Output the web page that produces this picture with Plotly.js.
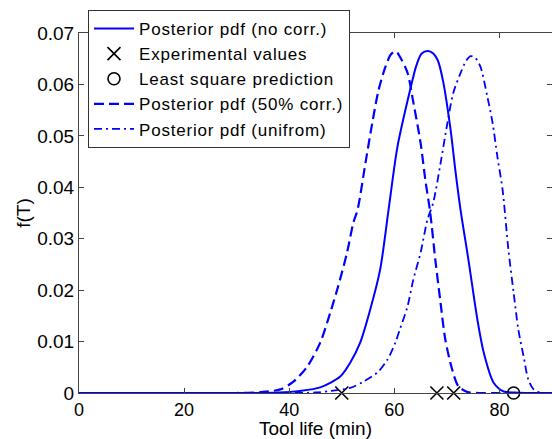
<!DOCTYPE html>
<html>
<head>
<meta charset="utf-8">
<script src="https://cdn.plot.ly/plotly-3.0.1.min.js"></script>
<style>html,body{margin:0;padding:0;background:#fff;}#chart{width:552px;height:439px;}
.legendtext{letter-spacing:0.8px;}</style>
</head>
<body>
<div id="chart"></div>
<script>
// Posterior pdf (no corr.)
var noCorrX = [0, 10, 20, 30, 38, 42, 45.9, 49.7, 51.6, 53.5, 55.4, 57.3, 58.9, 60.6, 63.0, 64.2, 65.2, 66.4, 67.4, 68.3, 69.3, 70.7, 71.6, 72.6, 74.1, 75.8, 77.0, 78.9, 80.8, 83, 86, 90];
var noCorrY = [0, 0, 0, 0, 0.0001, 0.0004, 0.0011, 0.0032, 0.0059, 0.0098, 0.0162, 0.024, 0.0356, 0.0479, 0.0589, 0.0637, 0.066, 0.0665, 0.066, 0.0646, 0.0605, 0.0512, 0.0434, 0.0356, 0.0259, 0.0143, 0.0079, 0.002, 0.0003, 0.0001, 0, 0];
// Posterior pdf (50% corr.)
var corrX = [0, 10, 20, 30, 35, 38.3, 40.8, 43.4, 45.9, 47.8, 49.3, 51.0, 52.2, 53.0, 54.5, 55.8, 57.0, 58.3, 59.4, 60.3, 61.1, 62.5, 63.6, 65.0, 65.9, 66.8, 67.8, 68.8, 69.7, 71.0, 72.2, 73.9, 76, 80, 90];
var corrY = [0, 0, 0, 0, 0.0002, 0.0007, 0.0022, 0.0051, 0.0098, 0.0156, 0.0207, 0.0273, 0.0331, 0.0356, 0.0447, 0.0525, 0.0589, 0.0634, 0.0659, 0.0664, 0.0653, 0.0623, 0.0566, 0.0486, 0.0414, 0.0353, 0.0259, 0.0175, 0.0104, 0.0046, 0.0013, 0.0002, 0, 0, 0];
// Posterior pdf (unifrom)
var uniX = [0, 10, 20, 30, 40, 45, 48, 51.6, 54.1, 56.8, 58.7, 60.2, 61.1, 62.5, 63.6, 65.0, 66.3, 67.4, 68.8, 70.1, 71.2, 72.6, 73.6, 74.5, 75.4, 76.4, 77.7, 78.7, 79.6, 80.6, 81.7, 82.7, 83.6, 84.6, 85.5, 86.5, 88, 90];
var uniY = [0, 0, 0, 0, 0, 0.0001, 0.0004, 0.001, 0.0022, 0.004, 0.0065, 0.0098, 0.0125, 0.0168, 0.022, 0.0273, 0.0337, 0.037, 0.0447, 0.0525, 0.0583, 0.0622, 0.0645, 0.0655, 0.0652, 0.0634, 0.0576, 0.0525, 0.046, 0.0395, 0.0279, 0.0195, 0.0123, 0.0071, 0.0026, 0.0007, 0, 0];
// Experimental values and least square prediction
var expX = [50, 68.1, 71.3];
var expY = [0, 0, 0];
var lsX = [82.7];
var lsY = [0];
var xTicks = [0, 20, 40, 60, 80];
var yTicks = [0, 0.01, 0.02, 0.03, 0.04, 0.05, 0.06, 0.07];
var yTickText = ['0', '0.01', '0.02', '0.03', '0.04', '0.05', '0.06', '0.07'];

var blue = '#0000ff';
var traces = [
  {x: noCorrX, y: noCorrY, type: 'scatter', mode: 'lines', name: 'Posterior pdf (no corr.)', line: {color: blue, width: 2, shape: 'spline', smoothing: 0.8}},
  {x: expX, y: expY, type: 'scatter', mode: 'markers', name: 'Experimental values', cliponaxis: false,
   marker: {symbol: 'x-thin-open', size: 13, color: '#000', line: {color: '#000', width: 1.6}}},
  {x: lsX, y: lsY, type: 'scatter', mode: 'markers', name: 'Least square prediction', cliponaxis: false,
   marker: {symbol: 'circle-open', size: 12, color: '#000', line: {color: '#000', width: 1.6}}},
  {x: corrX, y: corrY, type: 'scatter', mode: 'lines', name: 'Posterior pdf (50% corr.)', line: {color: blue, width: 2.2, dash: '10px,5px', shape: 'spline', smoothing: 0.8}},
  {x: uniX, y: uniY, type: 'scatter', mode: 'lines', name: 'Posterior pdf (unifrom)', line: {color: blue, width: 1.8, dash: '8px,4px,2px,4px', shape: 'spline', smoothing: 0.8}}
];

var layout = {
  width: 552, height: 439,
  margin: {l: 79, r: 0, t: 33, b: 45.5},
  paper_bgcolor: '#fff', plot_bgcolor: '#fff',
  font: {family: 'Liberation Sans, Arial, sans-serif', size: 18, color: '#000'},
  showlegend: true,
  legend: {x: 0.019, y: 1.064, xanchor: 'left', yanchor: 'top', bgcolor: '#fff', bordercolor: '#333', borderwidth: 1,
           font: {size: 17}, itemwidth: 40, tracegroupgap: 0},
  xaxis: {range: [0, 90], tickvals: xTicks, ticks: 'inside', ticklen: 5, tickcolor: '#444', showline: true, linecolor: '#444', linewidth: 1,
          tickfont: {size: 18},
          mirror: 'ticks', showgrid: false, zeroline: false, title: {text: 'Tool life (min)', standoff: 11, font: {size: 19}}},
  yaxis: {range: [0, 0.07], tickvals: yTicks, ticktext: yTickText, ticks: 'inside', ticklen: 5, tickcolor: '#444', showline: true, linecolor: '#444', linewidth: 1,
          tickfont: {size: 19},
          mirror: 'ticks', showgrid: false, zeroline: false, title: {text: 'f(T)', standoff: 1, font: {size: 19}}}
};
Plotly.newPlot('chart', traces, layout, {displayModeBar: false, staticPlot: true});
</script>
</body>
</html>
